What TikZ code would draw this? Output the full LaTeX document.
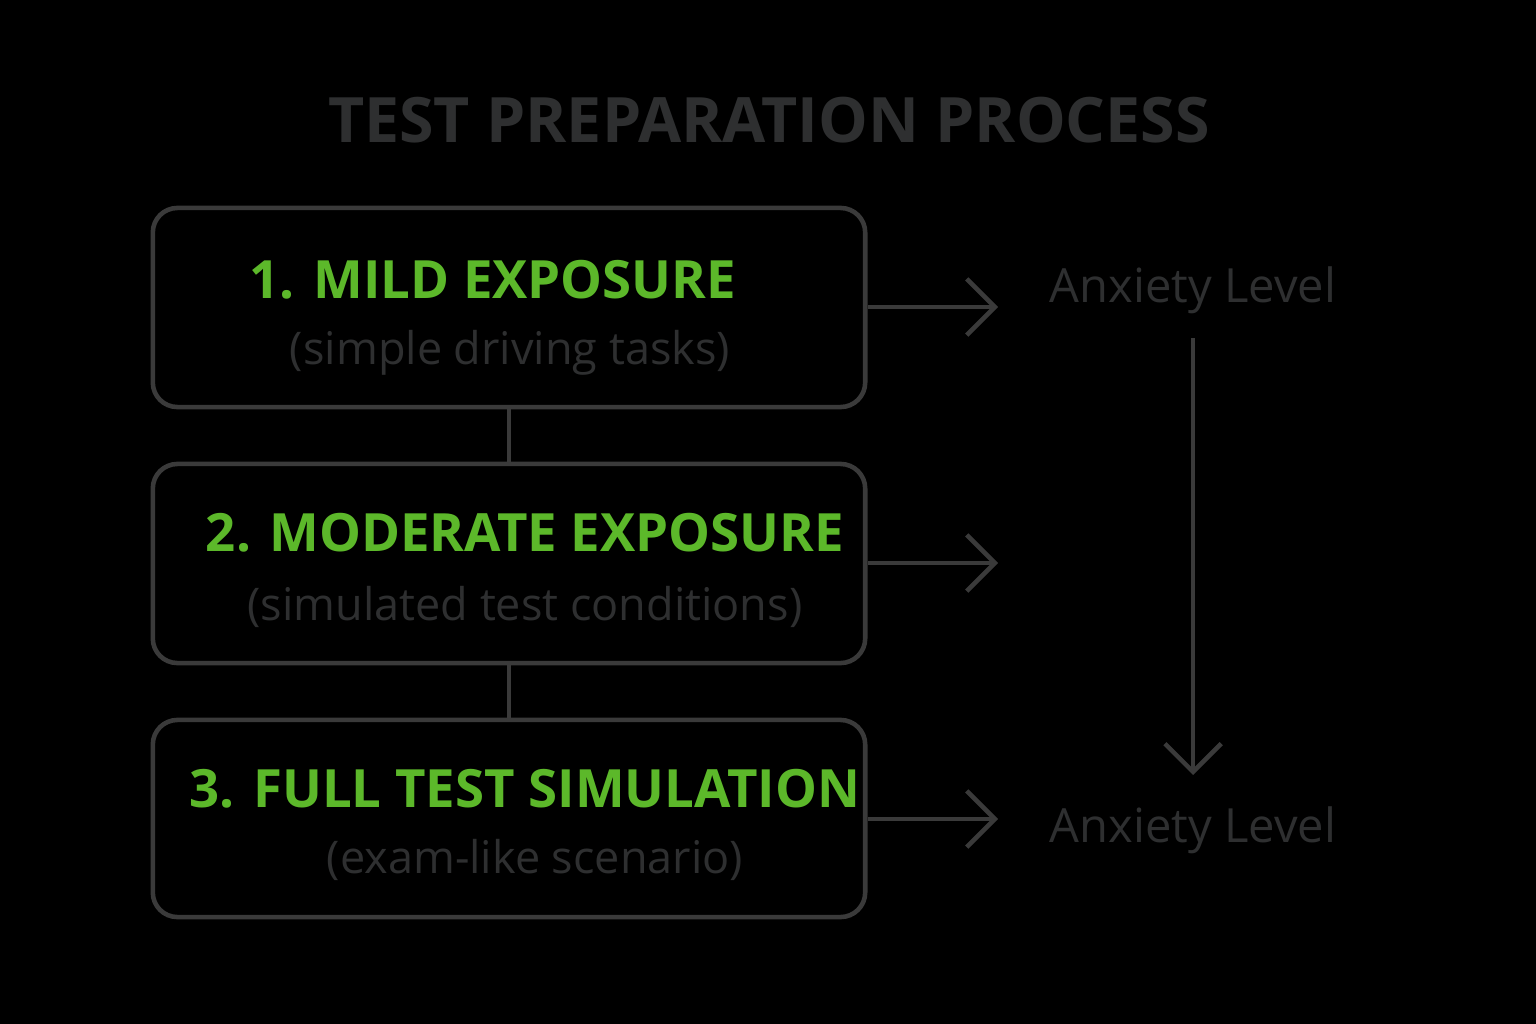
\documentclass[tikz,border=0pt]{standalone}
\usepackage{fontspec}
\setmainfont{Open Sans}
\usetikzlibrary{arrows.meta}
\definecolor{bg}{HTML}{000000}
\definecolor{edge}{HTML}{3A3A3A}
\definecolor{txt}{HTML}{2E2F30}
\definecolor{grn}{HTML}{5CB82A}
\tikzset{
  px/.style={x=0.01cm,y=-0.01cm},
  stepbox/.style={draw=edge,line width=1.3pt,rounded corners=7pt},
  head/.style={text=grn,font=\fontsize{15}{18}\selectfont\bfseries,inner sep=0},
  sub/.style={text=txt,font=\fontsize{12.8}{15}\selectfont,inner sep=0},
  lvl/.style={text=txt,font=\fontsize{13.4}{16}\selectfont,inner sep=0},
  conn/.style={draw=edge,line width=1.3pt},
  arr/.style={draw=edge,line width=1.3pt,-{Straight Barb[length=8pt,width=16pt,line width=1.3pt]}},
}
\begin{document}
\begin{tikzpicture}[px]
\fill[bg] (0,0) rectangle (1536,1024);
\useasboundingbox (0,0) rectangle (1536,1024);
\node[text=txt,font=\fontsize{17.8}{21}\selectfont\bfseries,inner sep=0] (title) at (769,120) {TEST PREPARATION PROCESS};
\node[stepbox,minimum width=7.12cm,minimum height=1.99cm] (b1) at (509,307.5) {};
\node[stepbox,minimum width=7.12cm,minimum height=1.99cm] (b2) at (509,563.5) {};
\node[stepbox,minimum width=7.12cm,minimum height=1.97cm] (b3) at (509,818.5) {};
\node[head] (h1) at (493,280) {1. MILD EXPOSURE};
\node[sub] (s1) at (510,353) {(simple driving tasks)};
\node[head] (h2) at (525,533) {2. MODERATE EXPOSURE};
\node[sub] (s2) at (525,607) {(simulated test conditions)};
\node[head] (h3) at (525,789) {3. FULL TEST SIMULATION};
\node[sub] (s3) at (535,860) {(exam-like scenario)};
\draw[conn] (b1.south) -- (b2.north);
\draw[conn] (b2.south) -- (b3.north);
\coordinate (e1) at (998,307);
\coordinate (e2) at (998,563);
\coordinate (e3) at (998,819);
\draw[arr] (b1.east |- e1) -- (e1);
\draw[arr] (b2.east |- e2) -- (e2);
\draw[arr] (b3.east |- e3) -- (e3);
\node[lvl] (l1) at (1193,290) {Anxiety Level};
\node[lvl] (l2) at (1193,830) {Anxiety Level};
\coordinate (v1) at (1193,338);
\coordinate (v2) at (1193,775);
\draw[arr] (v1) -- (v2);
\end{tikzpicture}
\end{document}
